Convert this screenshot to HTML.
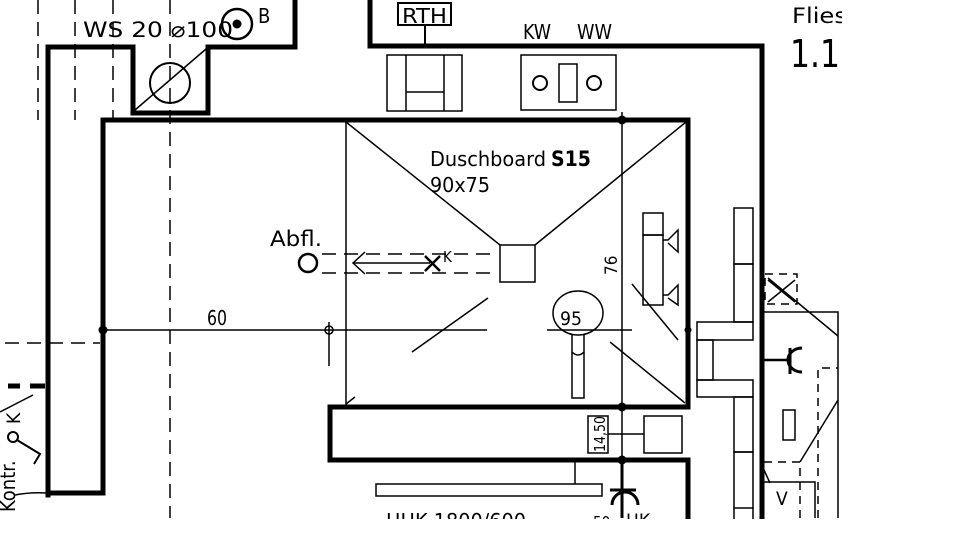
<!DOCTYPE html>
<html><head><meta charset="utf-8"><style>
html,body{margin:0;padding:0;background:#fff;width:960px;height:540px;overflow:hidden}
text{font-family:"DejaVu Sans","Liberation Sans",sans-serif;font-stretch:condensed;fill:#000}
</style></head><body>
<svg width="960" height="540" viewBox="0 0 960 540" xmlns="http://www.w3.org/2000/svg">
<g fill="none" stroke="#000">
<g stroke-width="1.5" stroke-dasharray="14,8">
<line x1="38" y1="0" x2="38" y2="120"/><line x1="75" y1="0" x2="75" y2="120"/><line x1="113" y1="0" x2="113" y2="120"/>
<line x1="170" y1="0" x2="170" y2="518"/>
<line x1="5" y1="343" x2="100" y2="343"/>
</g>
<g stroke-width="5" stroke-linecap="square">
<polyline points="48,495 48,47 130,47"/>
<polyline points="133,47 133,113 208,113 208,47 295,47 295,0"/>
<polyline points="103,490 103,120 688,120 688,405"/>
<line x1="48" y1="493" x2="103" y2="493"/>
<polyline points="370,0 370,46 762,46 762,518"/>
<polyline points="330,407 688,407"/>
<polyline points="330,407 330,460 688,460 688,518"/>
</g>
<line x1="8" y1="386" x2="20" y2="386" stroke-width="5"/><line x1="30" y1="386" x2="45" y2="386" stroke-width="5"/>
<line x1="135" y1="110" x2="206" y2="49" stroke-width="1.5"/>
<circle cx="170" cy="83" r="20" stroke-width="2"/>
<circle cx="237" cy="24" r="15" stroke-width="2.5"/><circle cx="237" cy="24" r="4" fill="#000"/>
<rect x="398" y="3" width="53" height="22" stroke-width="2"/>
<line x1="425" y1="25" x2="425" y2="44" stroke-width="2"/>
<rect x="387" y="55" width="75" height="56" stroke-width="1.5"/>
<line x1="406" y1="55" x2="406" y2="111" stroke-width="1.5"/><line x1="444" y1="55" x2="444" y2="111" stroke-width="1.5"/>
<line x1="406" y1="92" x2="444" y2="92" stroke-width="1.5"/>
<rect x="521" y="55" width="95" height="55" stroke-width="1.5"/>
<circle cx="540" cy="83" r="7" stroke-width="2"/><circle cx="594" cy="83" r="7" stroke-width="2"/>
<rect x="559" y="64" width="18" height="38" stroke-width="1.5"/>
<g stroke-width="1.5">
<line x1="346" y1="120" x2="346" y2="405"/>
<line x1="622" y1="112" x2="622" y2="518"/>
<line x1="346" y1="122" x2="500" y2="245"/>
<line x1="686" y1="122" x2="535" y2="245"/>
<rect x="500" y="245" width="35" height="37"/>
<line x1="412" y1="352" x2="488" y2="298"/>
<line x1="610" y1="342" x2="685" y2="403"/>
<line x1="632" y1="284" x2="678" y2="340"/>
<line x1="103" y1="330" x2="487" y2="330"/>
<line x1="547" y1="330" x2="632" y2="330"/>
<line x1="329" y1="322" x2="329" y2="366"/>
<line x1="346" y1="404" x2="355" y2="397"/>
</g>
<circle cx="103" cy="330" r="4" fill="#000"/>
<circle cx="329" cy="330" r="4" stroke-width="1.5"/>
<circle cx="622" cy="120" r="4" fill="#000"/><circle cx="622" cy="407" r="4" fill="#000"/><circle cx="622" cy="460" r="4" fill="#000"/>
<circle cx="688" cy="330" r="3" fill="#000"/>
<circle cx="308" cy="263" r="9" stroke-width="2.5"/>
<g stroke-width="1.5" stroke-dasharray="14,8">
<line x1="322" y1="254" x2="498" y2="254"/><line x1="322" y1="273" x2="498" y2="273"/>
</g>
<polyline points="365,252 353,263 365,274" stroke-width="1.5"/>
<line x1="353" y1="263" x2="430" y2="263" stroke-width="1.5"/>
<line x1="425" y1="256" x2="440" y2="271" stroke-width="2.5"/><line x1="440" y1="256" x2="425" y2="271" stroke-width="2.5"/>
<ellipse cx="578" cy="313" rx="25" ry="22" stroke-width="1.5"/>
<path d="M572,335 L572,352 Q578,358 584,352 L584,335" stroke-width="1.5"/>
<path d="M572,352 L572,398 L584,398 L584,352" stroke-width="1.5"/>
<g stroke-width="1.5">
<rect x="643" y="213" width="20" height="22"/><rect x="643" y="235" width="20" height="70"/>
<path d="M663,240 L668,240 L678,230 L678,252 L668,243" /><path d="M663,295 L668,295 L678,285 L678,305 L668,298"/>
<rect x="734" y="208" width="19" height="56"/><rect x="734" y="264" width="19" height="58"/>
<rect x="697" y="322" width="56" height="18"/><rect x="697" y="340" width="16" height="40"/>
<rect x="697" y="380" width="56" height="17"/>
<rect x="734" y="397" width="19" height="55"/><rect x="734" y="452" width="19" height="56"/><line x1="734" y1="508" x2="734" y2="520"/><line x1="753" y1="508" x2="753" y2="520"/>
<rect x="588" y="416" width="20" height="37"/>
<rect x="644" y="416" width="38" height="37"/>
<line x1="608" y1="434" x2="644" y2="434"/>
<line x1="575" y1="462" x2="575" y2="484"/>
<rect x="376" y="484" width="226" height="12"/>
<polyline points="764,312 838,312 838,518"/>
<line x1="768" y1="278" x2="838" y2="336"/>
<line x1="800" y1="462" x2="838" y2="400"/>
<rect x="783" y="410" width="12" height="30"/>
<polyline points="764,482 815,482 815,518"/>
<line x1="764" y1="470" x2="770" y2="483"/>
</g>
<g stroke-width="1.5" stroke-dasharray="8,6">
<rect x="765" y="274" width="32" height="30"/>
<polyline points="818,518 818,368 838,368"/>
<polyline points="764,462 800,462 800,518"/>
</g>
<line x1="768" y1="280" x2="795" y2="302" stroke-width="1.5"/><line x1="795" y1="280" x2="768" y2="302" stroke-width="1.5"/>
<line x1="764" y1="360" x2="790" y2="360" stroke-width="2.5"/>
<path d="M802,348 A14,12 0 0 0 802,372" stroke-width="3"/><line x1="790" y1="348" x2="790" y2="374" stroke-width="3"/>
<line x1="622" y1="460" x2="622" y2="518" stroke-width="3"/>
<line x1="610" y1="490" x2="636" y2="490" stroke-width="3"/>
<path d="M612,505 A13,13 0 0 1 638,505" stroke-width="3"/>
<line x1="0" y1="412" x2="33" y2="395" stroke-width="1.5"/>
<circle cx="13" cy="437" r="5" stroke-width="2"/>
<polyline points="17,440 40,454 34,464" stroke-width="2"/>
<path d="M15,495 Q30,492 48,493" stroke-width="1.5"/>
</g>
<g>
<text x="83" y="37" font-size="21" textLength="150" lengthAdjust="spacingAndGlyphs">WS 20 ⌀100</text>
<text x="258" y="23" font-size="20">B</text>
<text x="402" y="23" font-size="20" textLength="45" lengthAdjust="spacingAndGlyphs">RTH</text>
<text x="523" y="39" font-size="20" textLength="28" lengthAdjust="spacingAndGlyphs">KW</text>
<text x="577" y="39" font-size="20" textLength="35" lengthAdjust="spacingAndGlyphs">WW</text>
<text x="792" y="23" font-size="21" textLength="55" lengthAdjust="spacingAndGlyphs">Flies</text>
<text x="790" y="67" font-size="38" textLength="70" lengthAdjust="spacingAndGlyphs">1.17</text>
<text x="430" y="166" font-size="20" textLength="116" lengthAdjust="spacingAndGlyphs">Duschboard</text>
<text x="551" y="166" font-size="21" font-weight="bold" font-family="Liberation Sans">S15</text>
<text x="430" y="192" font-size="20" textLength="60" lengthAdjust="spacingAndGlyphs">90x75</text>
<text x="270" y="246" font-size="21" textLength="52" lengthAdjust="spacingAndGlyphs">Abfl.</text>
<text x="443" y="262" font-size="15">K</text>
<text x="207" y="325" font-size="20" textLength="20" lengthAdjust="spacingAndGlyphs">60</text>
<text x="560" y="325" font-size="19" textLength="22" lengthAdjust="spacingAndGlyphs">95</text>
<text x="617" y="275" font-size="17" transform="rotate(-90 617 275)">76</text>
<text x="605" y="452" font-size="15" transform="rotate(-90 605 452)" textLength="36" lengthAdjust="spacingAndGlyphs">14,50</text>
<text x="386" y="528" font-size="20" textLength="140" lengthAdjust="spacingAndGlyphs">HHK 1800/600</text>
<text x="593" y="527" font-size="15">50</text>
<text x="626" y="527" font-size="19">HK</text>
<text x="20" y="424" font-size="19" transform="rotate(-90 20 424)">K</text>
<text x="15" y="512" font-size="20" transform="rotate(-90 15 512)">Kontr.</text>
<text x="776" y="505" font-size="19">V</text>
</g>
<rect x="842" y="0" width="118" height="540" fill="#fff"/>
<rect x="0" y="519" width="960" height="21" fill="#fff"/>
</svg>
</body></html>
